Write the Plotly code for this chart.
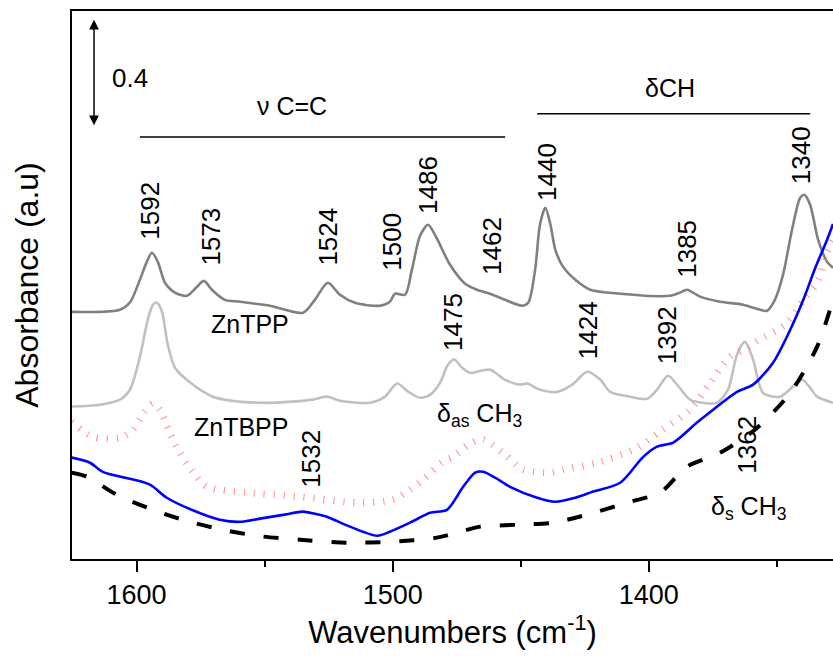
import plotly.graph_objects as go

# ---------------- data (wavenumber cm-1, absorbance a.u., offset traces) ----------------
wn_tpp = [1625.3, 1614.3, 1606.5, 1602.6, 1598.7, 1596.0, 1594.0, 1591.7, 1588.9, 1585.0,
          1580.4, 1576.4, 1573.7, 1570.6, 1565.5, 1559.6, 1547.9, 1535.0, 1530.4, 1525.3,
          1520.6, 1514.7, 1505.0, 1501.1, 1499.1, 1495.2, 1492.5, 1489.3, 1486.2, 1483.1,
          1477.6, 1471.7, 1467.1, 1462.0, 1456.1, 1449.5, 1447.1, 1444.4, 1442.5, 1440.4,
          1438.4, 1436.5, 1433.7, 1428.7, 1422.9, 1411.2, 1391.7, 1387.8, 1385.1, 1380.0,
          1372.2, 1363.2, 1356.5, 1353.9, 1350.8, 1347.6, 1344.1, 1340.9, 1339.3, 1337.0,
          1333.9, 1330.4, 1328.1]
ab_tpp = [0.924, 0.924, 0.932, 0.959, 1.044, 1.111, 1.145, 1.111, 1.033, 0.996,
          0.984, 1.018, 1.040, 1.007, 0.969, 0.962, 0.947, 0.921, 0.969, 1.033,
          0.988, 0.958, 0.947, 0.962, 0.992, 0.988, 1.082, 1.209, 1.250, 1.205,
          1.100, 1.029, 1.007, 0.992, 0.969, 0.947, 0.958, 1.082, 1.250, 1.313,
          1.250, 1.156, 1.096, 1.044, 1.007, 0.992, 0.984, 0.996, 1.007, 0.981,
          0.962, 0.951, 0.932, 0.928, 0.969, 1.063, 1.231, 1.351, 1.362, 1.324,
          1.194, 1.111, 1.089]

wn_tbpp = [1625.3, 1614.3, 1606.5, 1602.6, 1598.7, 1595.6, 1593.6, 1592.1, 1590.1, 1587.8,
           1585.0, 1580.4, 1570.2, 1551.8, 1531.1, 1525.7, 1520.6, 1508.9, 1503.0, 1498.3,
           1494.0, 1489.3, 1485.4, 1481.5, 1478.4, 1476.0, 1472.9, 1469.8, 1462.0, 1456.1,
           1450.3, 1447.5, 1442.5, 1435.7, 1429.9, 1424.0, 1418.9, 1415.1, 1407.3, 1400.7,
           1396.8, 1392.5, 1389.0, 1383.9, 1378.8, 1373.4, 1369.1, 1365.6, 1362.5, 1359.3,
           1355.4, 1348.8, 1342.9, 1340.1, 1337.0, 1334.3, 1328.1]
ab_tbpp = [0.570, 0.577, 0.596, 0.633, 0.756, 0.895, 0.951, 0.959, 0.925, 0.801,
           0.715, 0.670, 0.607, 0.584, 0.596, 0.607, 0.592, 0.584, 0.607, 0.656,
           0.626, 0.603, 0.614, 0.659, 0.727, 0.746, 0.715, 0.696, 0.708, 0.670,
           0.652, 0.656, 0.633, 0.625, 0.652, 0.700, 0.670, 0.625, 0.607, 0.599,
           0.633, 0.685, 0.652, 0.596, 0.584, 0.584, 0.633, 0.764, 0.812, 0.746,
           0.621, 0.607, 0.652, 0.670, 0.640, 0.607, 0.584]

wn_red = [1625.3, 1617.1, 1606.5, 1601.4, 1596.8, 1593.6, 1590.9, 1587.0, 1583.1, 1578.0,
          1572.5, 1556.9, 1536.2, 1512.8, 1499.9, 1493.2, 1488.2, 1480.3, 1476.4, 1469.8,
          1464.7, 1456.9, 1449.1, 1438.4, 1433.4, 1420.1, 1404.6, 1394.5, 1383.9, 1376.1,
          1368.3, 1360.5, 1357.5, 1346.0, 1339.7, 1334.3, 1330.4, 1328.1]
ab_red = [0.513, 0.457, 0.453, 0.484, 0.551, 0.581, 0.558, 0.473, 0.397, 0.326,
          0.270, 0.248, 0.233, 0.210, 0.222, 0.259, 0.296, 0.364, 0.382, 0.431,
          0.446, 0.397, 0.334, 0.323, 0.334, 0.360, 0.416, 0.484, 0.558, 0.659,
          0.756, 0.794, 0.816, 0.882, 0.969, 1.033, 1.145, 1.190]

wn_blue = [1625.3, 1618.2, 1613.2, 1602.6, 1594.8, 1588.2, 1579.2, 1567.5, 1559.6, 1551.8,
           1542.1, 1535.0, 1530.4, 1525.7, 1516.7, 1506.1, 1501.1, 1493.2, 1485.4, 1478.8,
           1472.5, 1467.8, 1464.7, 1460.0, 1454.2, 1443.6, 1436.6, 1428.7, 1421.7, 1411.2,
           1402.2, 1396.8, 1390.5, 1381.2, 1374.9, 1365.6, 1359.3, 1351.5, 1344.8, 1339.7,
           1335.0, 1330.4, 1328.1]
ab_blue = [0.379, 0.360, 0.326, 0.300, 0.278, 0.229, 0.187, 0.147, 0.139, 0.151,
           0.166, 0.177, 0.169, 0.158, 0.121, 0.087, 0.102, 0.136, 0.173, 0.184,
           0.270, 0.323, 0.326, 0.304, 0.270, 0.229, 0.214, 0.229, 0.252, 0.285,
           0.382, 0.420, 0.435, 0.510, 0.558, 0.625, 0.652, 0.734, 0.857, 0.969,
           1.089, 1.194, 1.253]

wn_black = [1625.3, 1619.4, 1607.7, 1593.6, 1579.2, 1564.7, 1550.7, 1536.2, 1517.9, 1499.9,
            1482.7, 1473.7, 1465.9, 1451.4, 1437.3, 1424.0, 1407.3, 1395.6, 1385.1, 1372.2,
            1358.5, 1344.8, 1334.3, 1328.1]
ab_black = [0.323, 0.308, 0.240, 0.184, 0.139, 0.106, 0.084, 0.072, 0.061, 0.065,
            0.080, 0.102, 0.121, 0.128, 0.136, 0.166, 0.214, 0.248, 0.345, 0.397,
            0.484, 0.621, 0.794, 0.969]

# peak labels: (text, x, y)
peak_text = ["1592", "1573", "1524", "1500", "1486", "1462", "1440", "1385", "1340",
             "1475", "1424", "1392", "1362", "1532"]
peak_x = [1594.8, 1571.0, 1525.3, 1500.3, 1486.2, 1461.2, 1439.7, 1385.1, 1340.5,
          1476.4, 1424.0, 1392.8, 1361.7, 1531.9]
peak_y = [1.302, 1.205, 1.205, 1.186, 1.399, 1.171, 1.448, 1.160, 1.511,
          0.887, 0.857, 0.838, 0.427, 0.375]

x_ticks = [1600, 1500, 1400]
x_minor = [1550, 1450, 1350]

FONT = "Arial, 'Liberation Sans', sans-serif"
GREEK = "'Liberation Serif', 'DejaVu Serif', serif"

fig = go.Figure()
fig.add_trace(go.Scatter(x=wn_tpp, y=ab_tpp, mode="lines",
                         line=dict(color="#808080", width=2.6, shape="spline", smoothing=0.8)))
fig.add_trace(go.Scatter(x=wn_tbpp, y=ab_tbpp, mode="lines",
                         line=dict(color="#c0c0c0", width=2.6, shape="spline", smoothing=0.8)))
fig.add_trace(go.Scatter(x=wn_red, y=ab_red, mode="lines",
                         line=dict(color="#ff8c8c", width=7, dash="1px,9px", shape="spline", smoothing=0.8)))
fig.add_trace(go.Scatter(x=wn_blue, y=ab_blue, mode="lines",
                         line=dict(color="#0000ff", width=2.6, shape="spline", smoothing=0.8)))
fig.add_trace(go.Scatter(x=wn_black, y=ab_black, mode="lines",
                         line=dict(color="#000000", width=4, dash="15px,19px", shape="spline", smoothing=0.8)))

ann = []
for t, x, y in zip(peak_text, peak_x, peak_y):
    ann.append(dict(x=x, y=y, xref="x", yref="y", text=t, showarrow=False, textangle=-90,
                    xanchor="center", yanchor="middle", font=dict(family=FONT, size=26, color="black")))

def txt(text, x, y, size=25, xanchor="center"):
    return dict(x=x, y=y, xref="x", yref="y", text=text, showarrow=False,
                xanchor=xanchor, yanchor="middle", font=dict(family=FONT, size=size, color="black"))

g = lambda s: f"<span style='font-family:{GREEK}'>{s}</span>"
ann += [
    txt("ZnTPP", 1555.7, 0.880),
    txt("ZnTBPP", 1559.2, 0.495),
    txt(g("δ") + "<sub>as</sub> CH<sub>3</sub>", 1466.3, 0.539),
    txt(g("δ") + "<sub>s</sub> CH<sub>3</sub>", 1361.2, 0.192),
    txt(g("ν") + " C=C", 1539.2, 1.693),
    txt(g("δ") + "CH", 1391.7, 1.762),
    txt("0.4", 1610.4, 1.799, size=26, xanchor="left"),
    dict(x=1616.6, y=2.016, ax=1616.6, ay=1.616, xref="x", yref="y", axref="x", ayref="y",
         text="", showarrow=True, arrowhead=2, arrowside="end+start", arrowwidth=1.5,
         arrowsize=1.3, arrowcolor="black"),
]

shapes = [
    dict(type="line", xref="x", yref="y", x0=1598.7, x1=1456.1, y0=1.578, y1=1.578,
         line=dict(color="black", width=1.5)),
    dict(type="line", xref="x", yref="y", x0=1443.6, x1=1337.0, y0=1.665, y1=1.665,
         line=dict(color="black", width=1.5)),
]

fig.update_layout(
    width=833, height=658,
    margin=dict(l=72, r=0, t=11, b=99, autoexpand=False),
    plot_bgcolor="white", paper_bgcolor="white",
    showlegend=False,
    annotations=ann, shapes=shapes,
    font=dict(family=FONT, color="black"),
    xaxis=dict(range=[1625.2, 1328.1], tickmode="array", tickvals=x_ticks, automargin=False,
               ticks="outside", ticklen=11, tickwidth=2, tickcolor="black",
               minor=dict(tickmode="array", tickvals=x_minor, ticks="outside", ticklen=6,
                          tickwidth=2, tickcolor="black"),
               showline=True, linecolor="black", linewidth=2, mirror=True,
               showgrid=False, zeroline=False,
               tickfont=dict(family=FONT, size=27, color="black"),
               title=dict(text="Wavenumbers (cm<sup>-1</sup>)", font=dict(family=FONT, size=31),
                          standoff=10)),
    yaxis=dict(range=[0, 2.049], showticklabels=False, ticks="", showgrid=False, zeroline=False,
               automargin=False,
               showline=True, linecolor="black", linewidth=2, mirror=False,
               title=dict(text="Absorbance (a.u)", font=dict(family=FONT, size=32), standoff=22)),
)

fig.write_html("out.html", config={"displayModeBar": False},
               post_script="document.body.style.margin='0px';document.body.style.overflow='hidden';")
